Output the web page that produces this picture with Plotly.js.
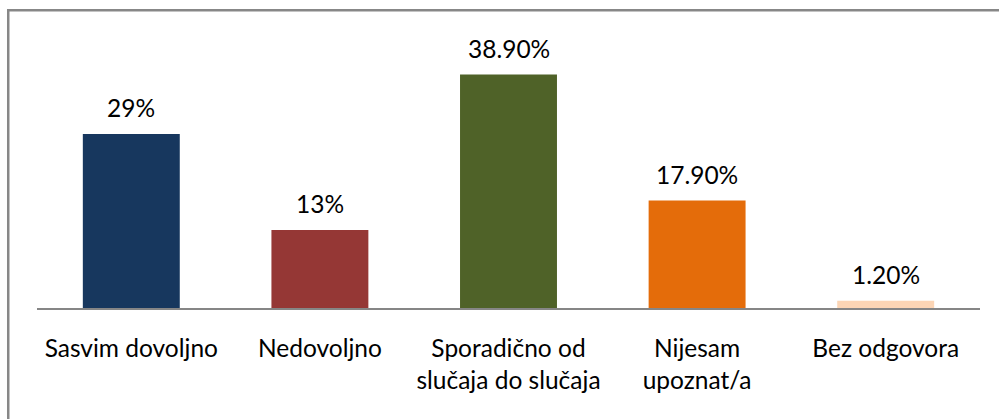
<!DOCTYPE html>
<html>
<head>
<meta charset="utf-8">
<script src="https://cdn.plot.ly/plotly-3.0.1.min.js"></script>
<style>
  html, body { margin: 0; padding: 0; background: #ffffff; }
  #chart { width: 999px; height: 419px; }
</style>
</head>
<body>
<div id="chart"></div>
<script>
const categories = ["Sasvim dovoljno", "Nedovoljno", "Sporadično od<br>slučaja do slučaja", "Nijesam<br>upoznat/a", "Bez odgovora"];
const values = [29, 13, 38.9, 17.9, 1.2];
const valueLabels = ["29%", "13%", "38.90%", "17.90%", "1.20%"];
const barColors = ["#17375E", "#953735", "#4F6228", "#E46C0A", "#FCD5B5"];

const FONT = "Lato, 'Open Sans', sans-serif";
const FSIZE = 24.5;

const trace = {
  type: "bar",
  x: categories,
  y: values,
  marker: { color: barColors, line: { width: 0 } },
  hoverinfo: "none"
};

const annotations = categories.map((c, i) => ({
  x: c,
  y: values[i],
  xref: "x",
  yref: "y",
  text: valueLabels[i],
  showarrow: false,
  yanchor: "bottom",
  yshift: 10,
  font: { family: FONT, size: FSIZE, color: "#000000" }
}));

const layout = {
  width: 999,
  height: 419,
  margin: { l: 37, r: 19, t: 20, b: 111 },
  paper_bgcolor: "#ffffff",
  plot_bgcolor: "#ffffff",
  showlegend: false,
  bargap: 0.486,
  font: { family: FONT, size: FSIZE, color: "#000000" },
  xaxis: {
    type: "category",
    range: [-0.5, 4.5],
    showline: true,
    linecolor: "#868686",
    linewidth: 2,
    ticks: "",
    showgrid: false,
    zeroline: false,
    ticklabelstandoff: 18,
    tickfont: { family: FONT, size: FSIZE, color: "#000000" },
    fixedrange: true
  },
  yaxis: {
    range: [0, 48],
    visible: false,
    showgrid: false,
    zeroline: false,
    fixedrange: true
  },
  annotations: annotations,
  shapes: [{
    type: "rect",
    xref: "paper",
    yref: "paper",
    x0: -0.0305,
    x1: 1.03,
    y0: -0.42,
    y1: 1.0337,
    line: { color: "#878787", width: 2.5 },
    fillcolor: "rgba(0,0,0,0)",
    layer: "above"
  }]
};

Plotly.newPlot("chart", [trace], layout, { displayModeBar: false, staticPlot: true });
</script>
</body>
</html>
